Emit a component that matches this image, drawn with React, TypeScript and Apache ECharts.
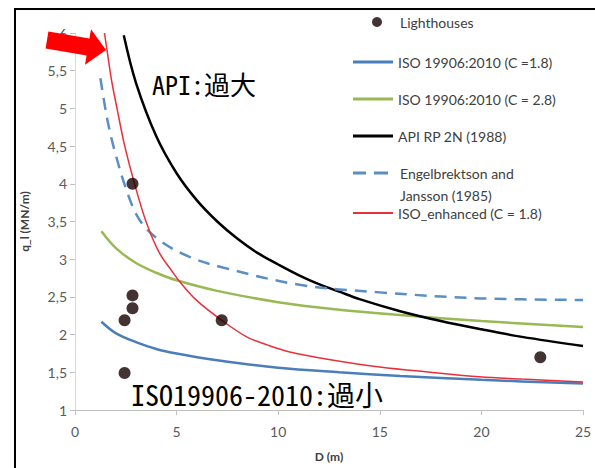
import React, { useEffect, useRef } from "react";
import * as echarts from "echarts";

// ISO 19906:2010 (C = 1.8) and (C = 2.8)
const dIso = [1.3, 2, 3, 4, 5, 7, 10, 13, 16, 20, 25];
const qIso18 = [2.17, 2.02, 1.9, 1.81, 1.75, 1.66, 1.56, 1.5, 1.45, 1.4, 1.35];
const qIso28 = [3.37, 3.15, 2.95, 2.82, 2.72, 2.58, 2.43, 2.33, 2.26, 2.18, 2.1];
// API RP 2N (1988)
const dApi = [2.4, 3, 4, 5, 6, 7, 8, 9, 10, 11, 12, 13, 14, 16, 18, 20, 22, 25];
const qApi = [5.97, 5.34, 4.63, 4.14, 3.78, 3.5, 3.27, 3.08, 2.93, 2.79, 2.67, 2.57, 2.47, 2.31, 2.18, 2.07, 1.97, 1.85];
// Engelbrektson and Jansson (1985)
const dEng = [1.25, 1.6, 1.95, 2.54, 3.18, 4.16, 5.64, 7.27, 11.06, 15, 20, 25];
const qEng = [5.4, 4.84, 4.44, 3.91, 3.52, 3.25, 3.03, 2.89, 2.66, 2.56, 2.48, 2.46];
// ISO_enhanced (C = 1.8)
const dEnh = [1.45, 1.6, 1.8, 2.09, 2.44, 2.93, 3.52, 4.16, 4.75, 5.16, 6, 7.22, 8.45, 9.5, 10.57, 12.5, 15, 17.5, 19.9, 22, 25];
const qEnh = [6.0, 5.73, 5.37, 4.97, 4.51, 4.0, 3.48, 3.08, 2.85, 2.7, 2.45, 2.19, 1.97, 1.86, 1.77, 1.67, 1.57, 1.5, 1.44, 1.41, 1.37];
// Lighthouses
const dLh = [2.44, 2.44, 2.83, 2.83, 2.83, 7.22, 22.9];
const qLh = [1.49, 2.19, 2.35, 2.52, 4.0, 2.19, 1.7];

const NAME_LH = "Lighthouses";
const NAME_18 = "ISO 19906:2010 (C =1.8)";
const NAME_28 = "ISO 19906:2010 (C = 2.8)";
const NAME_API = "API RP 2N (1988)";
const NAME_ENG = "Engelbrektson and Jansson (1985)";
const NAME_ENH = "ISO_enhanced (C = 1.8)";

const zip = (xs: number[], ys: number[]) => xs.map((x, i) => [x, ys[i]]);

export default function App() {
  const ref = useRef<HTMLDivElement>(null);
  useEffect(() => {
    if (!ref.current) return;
    const chart = echarts.init(ref.current, null, { renderer: "svg" });
    const legendText = { fontFamily: "Lato", fontSize: 14, color: "#404040", lineHeight: 14 };
    const mkLegend = (name: string, top: number, h: number, extra: any = {}) => ({
      data: [name],
      orient: "vertical",
      left: 353,
      top,
      padding: 0,
      itemGap: 0,
      itemWidth: 40,
      itemHeight: h,
      icon: "rect",
      selectedMode: false,
      textStyle: { ...legendText },
      ...extra,
    });
    const lineSeries = (name: string, xs: number[], ys: number[], color: string, width: number, type: any = "solid") => ({
      type: "line",
      name,
      data: zip(xs, ys),
      showSymbol: false,
      symbol: "none",
      smooth: 0.35,
      lineStyle: { color, width, type },
      itemStyle: { color },
      clip: true,
    });
    chart.setOption({
      animation: false,
      backgroundColor: "#ffffff",
      grid: { left: 75, right: 12, top: 33, bottom: 58, outerBoundsMode: "none", containLabel: false },
      xAxis: {
        type: "value",
        min: 0,
        max: 25,
        interval: 5,
        name: "D (m)",
        nameLocation: "middle",
        nameGap: 40,
        nameTextStyle: { fontFamily: "Lato", fontSize: 12, fontWeight: "bold", color: "#404040" },
        axisLine: { show: true, lineStyle: { color: "#bfbfbf", width: 1 } },
        axisTick: { show: true, length: 5, lineStyle: { color: "#bfbfbf" } },
        axisLabel: { margin: 14, fontFamily: "Lato", fontSize: 14, color: "#5a5a5a" },
        splitLine: { show: false },
      },
      yAxis: {
        type: "value",
        min: 1,
        max: 6,
        interval: 0.5,
        name: "q_l (MN/m)",
        nameLocation: "middle",
        nameRotate: 90,
        nameGap: 45,
        nameTextStyle: { fontFamily: "Lato", fontSize: 12, fontWeight: "bold", color: "#404040" },
        axisLine: { show: true, lineStyle: { color: "#d9d9d9", width: 1 } },
        axisTick: { show: true, length: 5, lineStyle: { color: "#bfbfbf" } },
        axisLabel: {
          margin: 8,
          fontFamily: "Lato",
          fontSize: 14,
          color: "#5a5a5a",
          formatter: (v: number) => String(v).replace(".", ","),
        },
        splitLine: { show: false },
      },
      legend: [
        mkLegend(NAME_LH, 15, 10, {
          left: 372,
          itemWidth: 10,
          icon: "circle",
          textStyle: { ...legendText, padding: [0, 0, 0, 13] },
        }),
        mkLegend(NAME_18, 55, 3),
        mkLegend(NAME_28, 92, 3),
        mkLegend(NAME_API, 129, 3),
        mkLegend(NAME_ENG, 166, 3, {
          itemWidth: 35,
          icon: "path://M0 0H13V3H0Z M21 0H35V3H21Z",
          formatter: () => "Engelbrektson and",
          textStyle: { ...legendText, padding: [0, 0, 0, 7] },
        }),
        mkLegend(NAME_ENH, 206, 2),
      ],
      series: [
        lineSeries(NAME_18, dIso, qIso18, "#4a7ebb", 2.5),
        lineSeries(NAME_28, dIso, qIso28, "#98b954", 2.5),
        lineSeries(NAME_API, dApi, qApi, "#000000", 2.5),
        lineSeries(NAME_ENG, dEng, qEng, "#5b8ec4", 2.5, [12, 8]),
        lineSeries(NAME_ENH, dEnh, qEnh, "#e8303a", 1.5),
        {
          type: "scatter",
          name: NAME_LH,
          data: zip(dLh, qLh),
          symbol: "circle",
          symbolSize: 12,
          itemStyle: { color: "#140000" },
          z: 5,
        },
      ],
      graphic: [
        {
          type: "rect",
          silent: true,
          shape: { x: 15, y: 9, width: 700, height: 600 },
          style: { fill: "none", stroke: "#000000", lineWidth: 2 },
          z: 50,
        },
        {
          type: "text",
          silent: true,
          x: 400,
          y: 195,
          style: { text: "Jansson (1985)", fontFamily: "Lato", fontSize: 14, fill: "#404040", verticalAlign: "middle" },
        },
        {
          type: "text",
          silent: true,
          x: 152,
          y: 83,
          style: {
            text: "API:過大",
            fontFamily: "'Noto Sans Mono CJK JP', 'Noto Sans CJK JP'",
            fontSize: 26,
            fill: "#000000",
            verticalAlign: "middle",
          },
          z: 60,
        },
        {
          type: "text",
          silent: true,
          x: 131,
          y: 394,
          style: {
            text: "ISO19906-2010:過小",
            fontFamily: "'Noto Sans Mono CJK JP', 'Noto Sans CJK JP'",
            fontSize: 28,
            fill: "#000000",
            verticalAlign: "middle",
          },
          z: 60,
        },
        {
          type: "polygon",
          silent: true,
          shape: {
            points: [
              [48.4, 31.6],
              [89.4, 38.6],
              [91, 29.3],
              [106, 50],
              [85, 64.7],
              [86.6, 55.4],
              [45.6, 48.4],
            ],
          },
          style: { fill: "#ff0000" },
          z: 100,
        },
      ],
    });
    return () => chart.dispose();
  }, []);
  return (
    <div
      ref={ref}
      style={{ position: "fixed", left: 0, top: 0, width: 595, height: 468, background: "#fff" }}
    />
  );
}
